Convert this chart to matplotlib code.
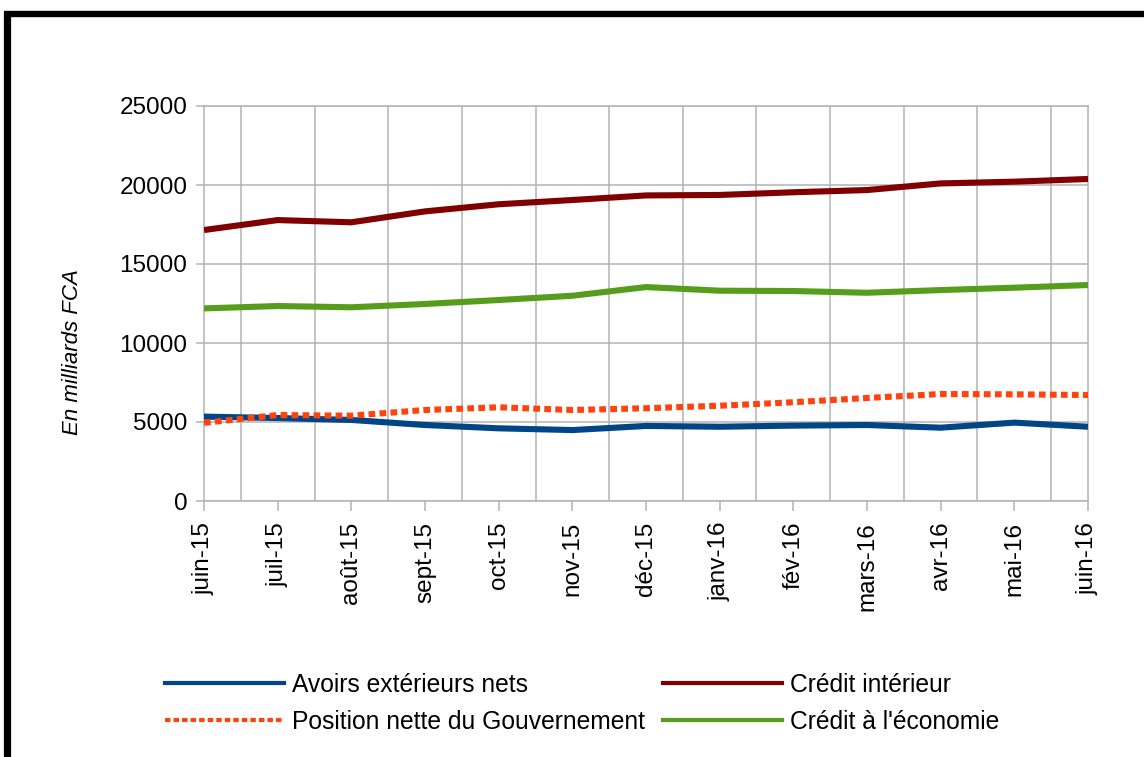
import matplotlib
matplotlib.use("Agg")
import matplotlib.pyplot as plt
from matplotlib.lines import Line2D
import numpy as np

months = ["juin-15", "juil-15", "août-15", "sept-15", "oct-15", "nov-15", "déc-15",
          "janv-16", "fév-16", "mars-16", "avr-16", "mai-16", "juin-16"]
avoirs = [5340, 5250, 5130, 4810, 4600, 4490, 4750, 4700, 4770, 4810, 4640, 4960, 4700]
position = [4950, 5440, 5400, 5760, 5930, 5760, 5870, 6030, 6250, 6520, 6770, 6750, 6710]
credit_int = [17150, 17780, 17640, 18330, 18780, 19050, 19340, 19370, 19540, 19680, 20100, 20210, 20380]
credit_eco = [12190, 12340, 12260, 12470, 12720, 12990, 13540, 13310, 13290, 13180, 13350, 13500, 13670]
yticks = [0, 5000, 10000, 15000, 20000, 25000]
series_names = ["Avoirs extérieurs nets", "Position nette du Gouvernement",
                "Crédit intérieur", "Crédit à l'économie"]

plt.rcParams['font.family'] = ['Liberation Sans', 'DejaVu Sans']

W, H = 1144, 757
fig = plt.figure(figsize=(W / 100, H / 100), dpi=100)
ax = fig.add_axes([204 / W, 1 - 501 / H, (1088 - 204) / W, (501 - 106) / H])

x = np.arange(len(months))
grid_c = "#b3b3b3"
colors = ["#004586", "#ff420e", "#800000", "#579d1c"]
dotted = (0, (1.1, 0.7))
lw = 4.4
ax.plot(x, avoirs, color=colors[0], lw=lw, solid_capstyle="butt", zorder=3)
ax.plot(x, position, color=colors[1], lw=lw, linestyle=dotted, dash_capstyle="butt", zorder=3)
ax.plot(x, credit_int, color=colors[2], lw=lw, solid_capstyle="butt", zorder=3)
ax.plot(x, credit_eco, color=colors[3], lw=lw, solid_capstyle="butt", zorder=3)

ax.set_xlim(0, len(months) - 1)
ax.set_ylim(0, 25000)
ax.set_yticks(yticks)
ax.set_yticklabels([str(v) for v in yticks], fontsize=17.5)
ax.set_xticks(x)
ax.set_xticklabels(months, rotation=90, fontsize=17.5)
ax.set_xticks(x[:-1] + 0.5, minor=True)
ax.grid(axis="y", which="major", color=grid_c, lw=1.1)
ax.grid(axis="x", which="minor", color=grid_c, lw=1.1)
ax.tick_params(axis="x", which="minor", length=0)
ax.tick_params(axis="x", which="major", length=7, color=grid_c, width=1.1, pad=8)
ax.tick_params(axis="y", which="major", length=6, color=grid_c, width=1.1, pad=6)
for s in ax.spines.values():
    s.set_color(grid_c)
    s.set_linewidth(1.1)

fig.text(73 / W, 1 - 352 / H, "En milliards FCA", rotation=90, fontsize=16,
         style="italic", ha="center", va="center")

hlw = 3.0
handles = [Line2D([], [], color=colors[0], lw=hlw),
           Line2D([], [], color=colors[1], lw=hlw, linestyle=(0, (1.3, 0.75))),
           Line2D([], [], color=colors[2], lw=hlw),
           Line2D([], [], color=colors[3], lw=hlw)]
leg_kw = dict(frameon=False, fontsize=17.7, handlelength=4.85, handletextpad=0.33,
              labelspacing=0.52, borderpad=0, borderaxespad=0, loc="upper left")
fig.legend(handles[:2], series_names[:2], bbox_to_anchor=(165 / W, 1 - 673 / H), **leg_kw)
fig.legend(handles[2:], series_names[2:], bbox_to_anchor=(663 / W, 1 - 673 / H), **leg_kw)

# black frame on top and left
fig.add_artist(Line2D([7 / W, 7 / W], [0, 1 - 11 / H], transform=fig.transFigure,
                      color="black", lw=5.2, solid_capstyle="butt"))
fig.add_artist(Line2D([7 / W - 3.5 / W, 1], [1 - 14 / H, 1 - 14 / H], transform=fig.transFigure,
                      color="black", lw=4.6, solid_capstyle="butt"))

fig.savefig("out.png", dpi=100, facecolor="white")
